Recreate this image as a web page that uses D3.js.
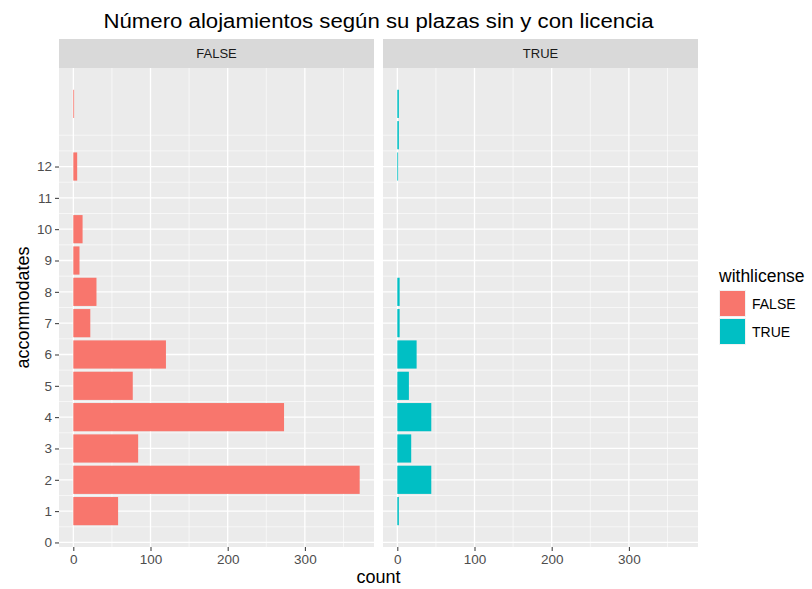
<!DOCTYPE html>
<html>
<head>
<meta charset="utf-8">
<script src="https://cdn.jsdelivr.net/npm/d3@7"></script>
<style>
  body { margin: 0; background: #fff; }
  svg { display: block; font-family: "Liberation Sans", Arial, sans-serif; }
</style>
</head>
<body>
<figure id="chart" style="margin:0"></figure>
<script>
// data
const accommodates = [1, 2, 3, 4, 5, 6, 7, 8, 9, 10, 11, 12, 13, 14];
const countFalse = [58, 371, 84, 273, 77, 120, 22, 30, 8, 12, 0, 5, 0, 1];
const countTrue = [2, 44, 18, 44, 15, 25, 3, 3, 0, 0, 0, 1, 2, 2];
const panels = ["FALSE", "TRUE"];
const panelColors = ["#F8766D", "#00BFC4"];
const yTicks = [0, 1, 2, 3, 4, 5, 6, 7, 8, 9, 10, 11, 12];
const yMinor = [0.5, 1.5, 2.5, 3.5, 4.5, 5.5, 6.5, 7.5, 8.5, 9.5, 10.5, 11.5, 12.5, 13];
const xTicks = [0, 100, 200, 300];
const xMinor = [50, 150, 250, 350];

const width = 812, height = 589;
const panelTop = 68, panelBottom = 547;
const panelLeft = 59, panelWidth = 315, panelGap = 9;
const stripH = 29;

const svg = d3.select("figure#chart")
  .append("svg")
  .attr("width", width)
  .attr("height", height);

const maxCount = d3.max(countFalse.concat(countTrue));
const xPad = maxCount * 0.05;
const x = d3.scaleLinear()
  .domain([-xPad, maxCount + xPad])
  .range([0, panelWidth]);

const yLo = 1 - 0.45, yHi = 14 + 0.45;
const yPad = (yHi - yLo) * 0.05;
const y = d3.scaleLinear()
  .domain([yLo - yPad, yHi + yPad])
  .range([panelBottom, panelTop]);
const unit = y(0) - y(1);

const plotCenter = panelLeft + panelWidth + panelGap / 2;

// title
svg.append("text")
  .attr("x", plotCenter)
  .attr("y", 28)
  .attr("text-anchor", "middle")
  .attr("textLength", 550)
  .attr("lengthAdjust", "spacingAndGlyphs")
  .style("font-size", "20px")
  .style("fill", "#000")
  .text("Número alojamientos según su plazas sin y con licencia");

panels.forEach((p, i) => {
  const values = i === 0 ? countFalse : countTrue;
  const g = svg.append("g")
    .attr("transform", "translate(" + (panelLeft + i * (panelWidth + panelGap)) + ",0)");

  // strip
  g.append("rect")
    .attr("x", 0).attr("y", panelTop - stripH)
    .attr("width", panelWidth).attr("height", stripH)
    .style("fill", "#D9D9D9");
  g.append("text")
    .attr("x", panelWidth / 2)
    .attr("y", panelTop - stripH / 2)
    .attr("dy", "0.35em")
    .attr("text-anchor", "middle")
    .style("font-size", "13px")
    .style("fill", "#1A1A1A")
    .text(p);

  // panel background
  g.append("rect")
    .attr("x", 0).attr("y", panelTop)
    .attr("width", panelWidth).attr("height", panelBottom - panelTop)
    .style("fill", "#EBEBEB");

  // grid
  g.selectAll(".ymin").data(yMinor).join("line")
    .attr("x1", 0).attr("x2", panelWidth)
    .attr("y1", d => y(d)).attr("y2", d => y(d))
    .attr("stroke", "#fff").attr("stroke-width", 0.6);
  g.selectAll(".xmin").data(xMinor).join("line")
    .attr("y1", panelTop).attr("y2", panelBottom)
    .attr("x1", d => x(d)).attr("x2", d => x(d))
    .attr("stroke", "#fff").attr("stroke-width", 0.6);
  g.selectAll(".ymaj").data(yTicks).join("line")
    .attr("x1", 0).attr("x2", panelWidth)
    .attr("y1", d => y(d)).attr("y2", d => y(d))
    .attr("stroke", "#fff").attr("stroke-width", 1.3);
  g.selectAll(".xmaj").data(xTicks).join("line")
    .attr("y1", panelTop).attr("y2", panelBottom)
    .attr("x1", d => x(d)).attr("x2", d => x(d))
    .attr("stroke", "#fff").attr("stroke-width", 1.3);

  // bars
  g.append("g")
    .selectAll("rect")
    .data(accommodates.map((a, j) => ({ a: a, n: values[j] })).filter(d => d.n > 0))
    .join("rect")
    .attr("x", x(0))
    .attr("y", d => y(d.a + 0.45))
    .attr("width", d => x(d.n) - x(0))
    .attr("height", unit * 0.9)
    .style("fill", panelColors[i]);

  // x axis
  const xAxis = g.append("g")
    .attr("transform", "translate(0," + panelBottom + ")")
    .call(d3.axisBottom(x).tickValues(xTicks).tickSize(4).tickPadding(3));
  xAxis.select(".domain").remove();
  xAxis.selectAll(".tick line").attr("stroke", "#333");
  xAxis.selectAll(".tick text")
    .style("font-size", "13.5px")
    .style("font-family", "Liberation Sans, Arial, sans-serif")
    .attr("fill", "#4D4D4D");
});

// y axis
const yAxis = svg.append("g")
  .attr("transform", "translate(" + panelLeft + ",0)")
  .call(d3.axisLeft(y).tickValues(yTicks).tickSize(4).tickPadding(3));
yAxis.select(".domain").remove();
yAxis.selectAll(".tick line").attr("stroke", "#333");
yAxis.selectAll(".tick text")
  .style("font-size", "13.5px")
  .style("font-family", "Liberation Sans, Arial, sans-serif")
  .attr("fill", "#4D4D4D");

// axis titles
svg.append("text")
  .attr("x", plotCenter)
  .attr("y", 583)
  .attr("text-anchor", "middle")
  .style("font-size", "18px")
  .text("count");

svg.append("text")
  .attr("transform", "translate(29," + ((panelTop + panelBottom) / 2) + ") rotate(-90)")
  .attr("text-anchor", "middle")
  .style("font-size", "18px")
  .text("accommodates");

// legend
const legend = svg.append("g").attr("transform", "translate(719,0)");
legend.append("text")
  .attr("x", 0).attr("y", 282)
  .style("font-size", "17.5px")
  .text("withlicense");
const items = legend.selectAll(".item")
  .data(panels)
  .join("g")
  .attr("transform", (d, i) => "translate(0," + (290 + i * 28) + ")");
items.append("rect")
  .attr("width", 27).attr("height", 27)
  .style("fill", "#F2F2F2");
items.append("rect")
  .attr("x", 1).attr("y", 1)
  .attr("width", 25).attr("height", 25)
  .style("fill", (d, i) => panelColors[i]);
items.append("text")
  .attr("x", 33).attr("y", 14)
  .attr("dy", "0.35em")
  .style("font-size", "14px")
  .text(d => d);
</script>
</body>
</html>
